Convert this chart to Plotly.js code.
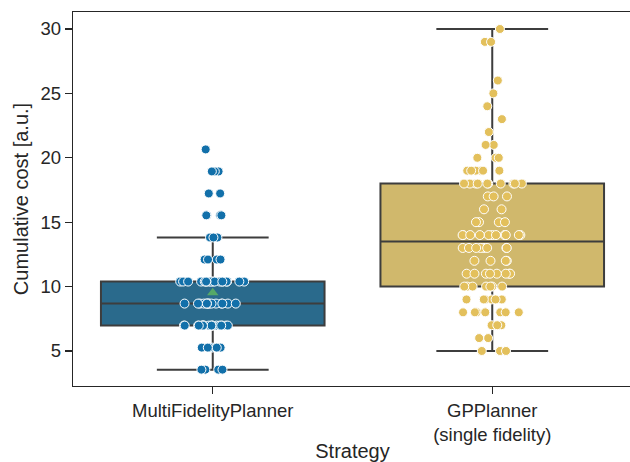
<!DOCTYPE html>
<html><head><meta charset="utf-8">
<script src="https://cdn.plot.ly/plotly-3.0.1.min.js"></script>
<style>html,body{margin:0;padding:0;overflow:hidden;background:#fff}</style>
</head><body><div id="chart" style="width:634px;height:462px"></div>
<script>
// Categories
const strategies = ["MultiFidelityPlanner", "GPPlanner<br>(single fidelity)"];
// MultiFidelityPlanner: observed cost levels and how many runs sit at each
const mfLevels = [3.55, 5.26, 6.97, 8.68, 10.39, 12.10, 13.81, 15.53, 17.23, 18.94, 20.65];
const mfCounts = [4, 8, 19, 14, 18, 4, 3, 4, 2, 3, 1];
// GPPlanner (single fidelity)
const gpLevels = [5, 6, 7, 8, 9, 10, 11, 12, 13, 14, 15, 16, 17, 18, 19, 20, 21, 22, 23, 24, 25, 26, 29, 30];
const gpCounts = [3, 2, 3, 8, 7, 7, 8, 4, 8, 12, 4, 2, 3, 10, 6, 3, 2, 1, 1, 1, 1, 1, 2, 1];
const yTicks = [5, 10, 15, 20, 25, 30];

function expand(levels, counts) {
  const out = [];
  levels.forEach((v, i) => { for (let k = 0; k < counts[i]; k++) out.push(v); });
  return out;
}
const mfVals = expand(mfLevels, mfCounts);
const gpVals = expand(gpLevels, gpCounts);
const mean = a => a.reduce((s, v) => s + v, 0) / a.length;
const means = [mean(mfVals), mean(gpVals)];

const edge = '#3d3d3d';
const clear = 'rgba(0,0,0,0)';

function boxTrace(name, vals, fill) {
  return {
    type: 'box', x: vals.map(() => name), y: vals, width: 0.8, whiskerwidth: 0.5,
    fillcolor: fill, line: {color: edge, width: 2},
    boxpoints: 'all', jitter: 0, pointpos: 0,
    marker: {opacity: 0, size: 2, line: {width: 0}},
    hoverinfo: 'skip', showlegend: false
  };
}
function pointsTrace(name, vals, color) {
  return {
    type: 'box', x: vals.map(() => name), y: vals, width: 0.8,
    fillcolor: clear, line: {color: clear, width: 0},
    boxpoints: 'all', jitter: 0.3, pointpos: 0,
    marker: {color: color, size: 9, line: {color: '#ffffff', width: 1}},
    hoverinfo: 'skip', showlegend: false
  };
}
const meanTrace = {
  type: 'box', x: strategies, y: means, width: 0.8,
  fillcolor: clear, line: {color: clear, width: 0},
  boxpoints: 'all', jitter: 0, pointpos: 0,
  marker: {symbol: 'triangle-up', color: '#55a868', size: 10, line: {width: 0}},
  hoverinfo: 'skip', showlegend: false
};

const data = [
  boxTrace(strategies[0], mfVals, '#2a6a8c'),
  boxTrace(strategies[1], gpVals, '#d0b86c'),
  meanTrace,
  pointsTrace(strategies[0], mfVals, '#1270aa'),
  pointsTrace(strategies[1], gpVals, '#e3c05c')
];

const axisCommon = {
  showline: true, mirror: true, linecolor: '#262626', linewidth: 1.3,
  ticks: 'outside', ticklen: 7, tickwidth: 1.3, tickcolor: '#262626',
  showgrid: false, zeroline: false,
  tickfont: {family: 'Liberation Sans, Arial, sans-serif', size: 18.5, color: '#262626'}
};

const layout = {
  width: 634, height: 462,
  margin: {l: 73, r: 2, t: 12, b: 76},
  paper_bgcolor: '#ffffff', plot_bgcolor: '#ffffff',
  boxmode: 'overlay', showlegend: false,
  font: {family: 'Liberation Sans, Arial, sans-serif', color: '#262626'},
  xaxis: Object.assign({}, axisCommon, {
    type: 'category', categoryorder: 'array', categoryarray: strategies,
    range: [-0.5, 1.5],
    title: {text: 'Strategy', font: {size: 20, color: '#262626'}, standoff: 4}
  }),
  yaxis: Object.assign({}, axisCommon, {
    range: [2.28, 31.32], tickvals: yTicks, ticktext: yTicks.map(String),
    title: {text: 'Cumulative cost [a.u.]', font: {size: 20, color: '#262626'}, standoff: 6}
  })
};

Plotly.newPlot('chart', data, layout, {staticPlot: true, displayModeBar: false});
</script>
</body></html>
